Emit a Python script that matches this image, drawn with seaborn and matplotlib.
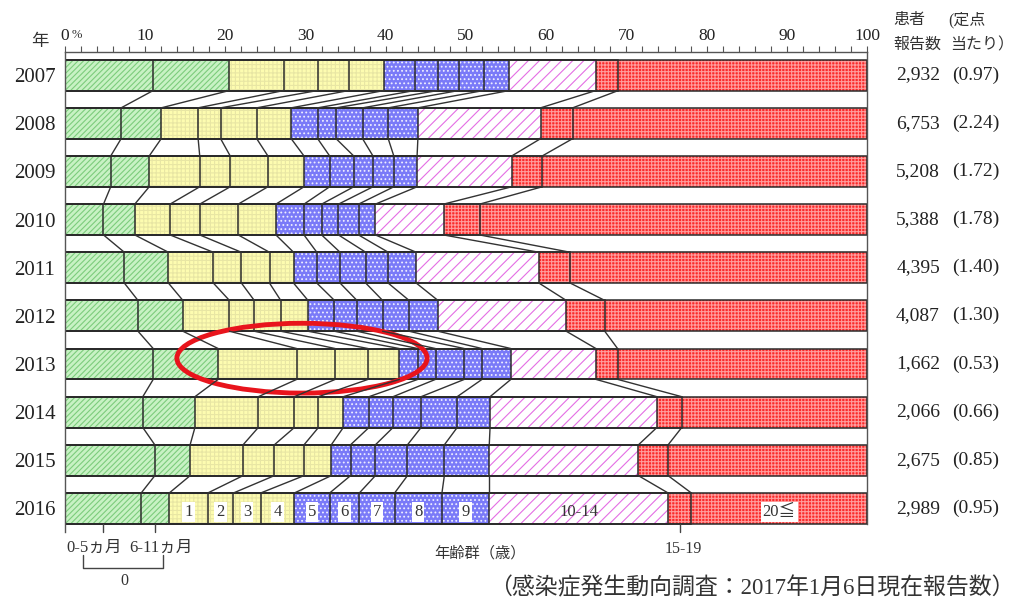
import matplotlib
matplotlib.use('Agg')
import numpy as np
import pandas as pd
import matplotlib.pyplot as plt
import seaborn as sns
from matplotlib.patches import Ellipse
from matplotlib.lines import Line2D

# 年齢群の割合 (%)
years = ['2007', '2008', '2009', '2010', '2011', '2012', '2013', '2014', '2015', '2016']
age_groups = ['0-5ヵ月', '6-11ヵ月', '1', '2', '3', '4', '5', '6', '7', '8', '9', '10-14', '15-19', '20≦']

s2007 = [11.0, 9.5, 6.8, 4.2, 3.9, 4.4, 3.8, 2.9, 2.6, 3.1, 3.2, 10.8, 2.8, 31.0]
s2008 = [7.0, 5.0, 4.6, 2.8, 4.5, 4.3, 3.3, 2.3, 3.3, 3.2, 3.7, 15.3, 4.0, 36.7]
s2009 = [5.7, 4.8, 6.3, 3.8, 4.7, 4.5, 3.2, 3.0, 2.4, 2.6, 2.9, 11.8, 3.8, 40.5]
s2010 = [4.8, 3.9, 4.4, 3.7, 4.8, 4.7, 3.5, 2.2, 2.1, 2.5, 2.1, 8.5, 4.5, 48.3]
s2011 = [7.4, 5.5, 5.6, 3.5, 3.5, 3.0, 2.9, 2.9, 3.2, 2.8, 3.5, 15.3, 3.9, 37.0]
s2012 = [9.1, 5.6, 5.8, 3.1, 3.3, 3.4, 3.3, 2.8, 3.2, 3.3, 3.6, 16.0, 4.8, 32.7]
s2013 = [11.0, 8.1, 9.8, 4.8, 4.1, 3.9, 2.3, 2.2, 3.6, 2.2, 3.6, 10.6, 2.7, 31.1]
s2014 = [9.7, 6.5, 7.9, 4.5, 3.0, 3.1, 3.2, 3.0, 3.5, 4.5, 4.1, 20.8, 3.1, 23.1]
s2015 = [11.2, 4.4, 6.6, 3.9, 3.7, 3.4, 2.4, 3.1, 4.0, 4.6, 5.6, 18.6, 3.7, 24.8]
s2016 = [9.5, 3.5, 4.8, 3.2, 3.4, 4.2, 4.4, 3.7, 4.4, 5.9, 5.9, 22.3, 2.9, 21.9]

patients = ['2,932', '6,753', '5,208', '5,388', '4,395', '4,087', '1,662', '2,066', '2,675', '2,989']
per_site = ['(0.97)', '(2.24)', '(1.72)', '(1.78)', '(1.40)', '(1.30)', '(0.53)', '(0.66)', '(0.85)', '(0.95)']

df = pd.DataFrame([s2007, s2008, s2009, s2010, s2011, s2012, s2013, s2014, s2015, s2016],
                  index=years, columns=age_groups)
cum = df.cumsum(axis=1)

sns.set_style('white')
plt.rcParams['font.family'] = ['Liberation Serif', 'Noto Sans CJK JP']
plt.rcParams['hatch.linewidth'] = 0.8

W, H = 1013, 603
fig = plt.figure(figsize=(W / 100, H / 100), dpi=100)
ax = fig.add_axes([65 / W, 1 - 531.5 / H, 802 / W, (531.5 - 52) / H])

def fx(x):
    return x / W

def fy(y):
    return 1 - y / H

# 色とハッチ (面の色, ハッチの色, ハッチ)
green = ('#c8f2c4', '#7ccc7c', '//////')
yellow = ('#fdfcb0', '#e8e6a4', '++++')
blue = ('#7a7af8', '#eeeeff', '....')
pink = ('#ffffff', '#e46ee4', '///')
red = ('#fb2a2a', '#ff9c9c', '+++++')
group_style = [green] * 2 + [yellow] * 4 + [blue] * 5 + [pink] + [red] * 2

bar_h = 0.64

# 累積を右から重ねて描く
for k in reversed(range(len(age_groups))):
    face, hc, hatch = group_style[k]
    sns.barplot(x=cum.iloc[:, k].values, y=years, orient='h', color=face, saturation=1,
                width=bar_h, edgecolor=hc, linewidth=0, hatch=hatch, errorbar=None, ax=ax)

for k in range(len(age_groups)):
    sns.barplot(x=cum.iloc[:, k].values, y=years, orient='h', fill=False, color='#2b2b2b',
                width=bar_h, linewidth=1.1, errorbar=None, ax=ax)

# 年ごとの境界を結ぶ線
for i in range(len(years) - 1):
    for k in range(len(age_groups) - 1):
        ax.plot([cum.iloc[i, k], cum.iloc[i + 1, k]], [i + bar_h / 2, i + 1 - bar_h / 2],
                color='#333333', lw=1.0)

ax.set_xlim(0, 100)
ax.set_ylim(9.48, -0.48)
ax.set_xlabel('')
ax.set_ylabel('')

ax.xaxis.tick_top()
ax.set_xticks(np.arange(0, 101, 10))
ax.set_xticklabels([str(v) for v in range(0, 101, 10)], fontsize=12.5, color='#222222')
ax.set_xticks(np.arange(0, 101, 2), minor=True)
ax.tick_params(axis='x', which='both', direction='out', length=4, width=0.8, color='#555555', pad=2)
ax.tick_params(axis='y', length=0, pad=7, labelsize=15, labelcolor='#222222')

for side in ['top', 'left', 'right']:
    ax.spines[side].set_visible(True)
    ax.spines[side].set_color('#555555')
    ax.spines[side].set_linewidth(1.0)
ax.spines['right'].set_bounds(-0.48, 9 + bar_h / 2)
ax.spines['bottom'].set_visible(False)

# 下側の目盛り (0-5ヵ月, 6-11ヵ月, 15-19)
last = len(years) - 1
for k in [0, 1, 12]:
    left = cum.iloc[last, k - 1] if k > 0 else 0
    mid = (left + cum.iloc[last, k]) / 2
    ax.plot([mid, mid], [9 + bar_h / 2, 9.5], color='#444444', lw=1.0, clip_on=False)

# 2016 の年齢群ラベル
for k in range(2, 14):
    left = cum.iloc[last, k - 1]
    mid = (left + cum.iloc[last, k]) / 2
    if k == 12:
        continue
    if k == 11:
        ax.text(mid, 9.08, age_groups[k], ha='center', va='center', fontsize=12, color='#333333')
    else:
        ax.text(mid, 9.08, age_groups[k], ha='center', va='center', fontsize=12, color='#333333',
                bbox=dict(boxstyle='square,pad=0.12', fc='white', ec='none'))

# 丸印
ax.add_patch(Ellipse((29.55, 5.88), 31.2, 1.45, fill=False, edgecolor='#e8141c', lw=3.5, clip_on=False))

# 右側の数字
for i in range(len(years)):
    yy = 75 + i * 48.15
    fig.text(fx(918), fy(yy), patients[i], ha='center', va='center', fontsize=14, color='#222222')
    fig.text(fx(952), fy(yy), per_site[i], ha='left', va='center', fontsize=14, color='#222222')

fig.text(fx(893), fy(20), '患者', ha='left', va='center', fontsize=11.5, color='#333333')
fig.text(fx(893), fy(45), '報告数', ha='left', va='center', fontsize=11.5, color='#333333')
fig.text(fx(948), fy(20), '(定点', ha='left', va='center', fontsize=11.5, color='#333333')
fig.text(fx(950), fy(45), '当たり）', ha='left', va='center', fontsize=11.5, color='#333333')

fig.text(fx(40), fy(42), '年', ha='center', va='center', fontsize=12.5, color='#333333')
fig.text(fx(72), fy(35), '%', ha='left', va='center', fontsize=9, color='#333333')

fig.text(fx(66), fy(548), '0-5ヵ月', ha='left', va='center', fontsize=12, color='#333333')
fig.text(fx(129), fy(548), '6-11ヵ月', ha='left', va='center', fontsize=12, color='#333333')
fig.add_artist(Line2D([fx(83), fx(83), fx(163), fx(163)], [fy(555), fy(568), fy(568), fy(555)],
                      color='#444444', lw=1.0))
fig.text(fx(124), fy(581), '0', ha='center', va='center', fontsize=11.5, color='#333333')
fig.text(fx(683), fy(549), '15-19', ha='center', va='center', fontsize=11.5, color='#333333')
fig.text(fx(480), fy(553), '年齢群（歳）', ha='center', va='center', fontsize=11, color='#333333')
fig.text(fx(752), fy(588), '（感染症発生動向調査：2017年1月6日現在報告数）', ha='center', va='center',
         fontsize=16.5, color='#333333')

fig.savefig('out.png', dpi=100)
